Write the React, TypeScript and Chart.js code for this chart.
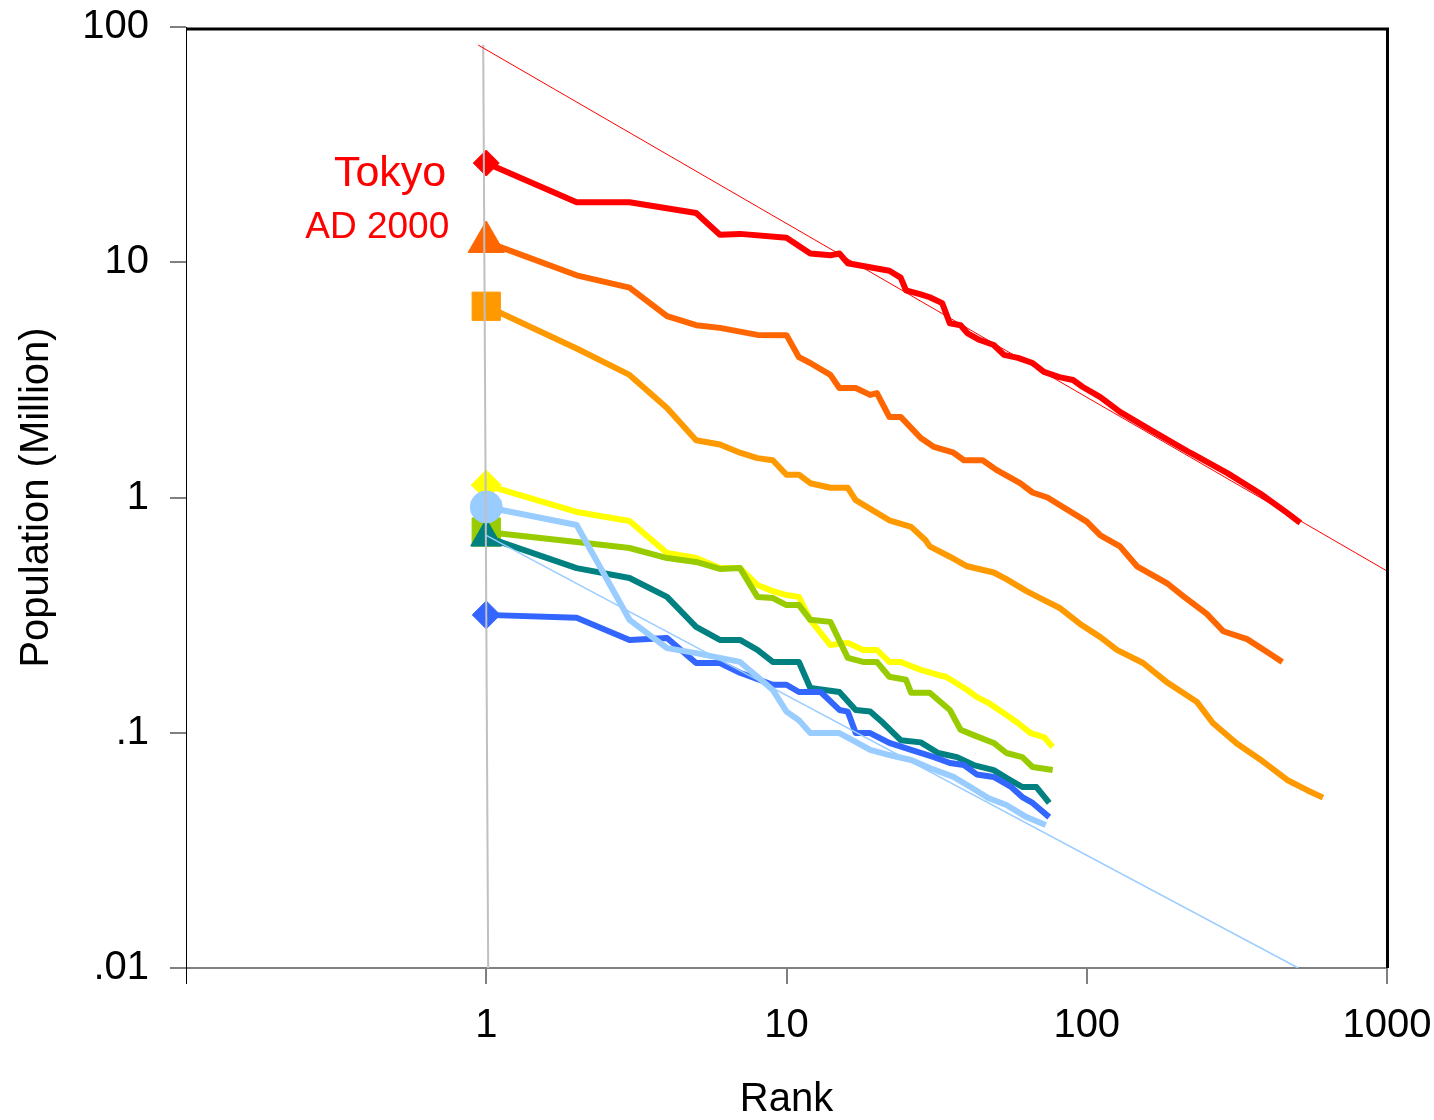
import React, { useEffect, useRef } from "react";
import { Chart, registerables } from "chart.js";

Chart.register(...registerables);

const FONT = "'Liberation Sans', Arial, Helvetica, sans-serif";

// ---- Axis ticks ----
const X_TICKS = [0.1, 1, 10, 100, 1000];
const X_TICK_LABELS = ["", "1", "10", "100", "1000"];
const Y_TICKS = [0.01, 0.1, 1, 10, 100];
const Y_TICK_LABELS = [".01", ".1", "1", "10", "100"];

// ---- Series: rank vs population (million) ----
const redRanks = [1, 2, 3, 5, 6, 7, 10, 12, 14, 15, 16, 22, 24, 25, 28, 30, 33, 35, 38, 40, 44, 49, 53, 59, 66, 72, 81, 90, 97, 111, 129, 163, 221, 294, 378, 465, 514];
const redValues = [26.4, 18.0, 18.0, 16.2, 13.1, 13.2, 12.7, 10.9, 10.7, 10.9, 9.9, 9.2, 8.6, 7.6, 7.3, 7.1, 6.7, 5.5, 5.4, 5.0, 4.67, 4.45, 4.04, 3.92, 3.73, 3.42, 3.25, 3.16, 2.95, 2.67, 2.31, 1.94, 1.55, 1.27, 1.04, 0.86, 0.78];

const orangeRedRanks = [1, 2, 3, 4, 5, 6, 8, 10, 11, 12, 14, 15, 17, 19, 20, 22, 24, 28, 31, 36, 39, 45, 50, 60, 66, 74, 100, 111, 129, 147, 186, 210, 251, 285, 342, 400, 448];
const orangeRedValues = [12.2, 8.8, 7.8, 5.9, 5.4, 5.26, 4.91, 4.9, 3.95, 3.73, 3.32, 2.92, 2.92, 2.73, 2.78, 2.2, 2.2, 1.79, 1.64, 1.55, 1.44, 1.44, 1.31, 1.15, 1.05, 1.0, 0.79, 0.69, 0.62, 0.51, 0.43, 0.38, 0.32, 0.27, 0.25, 0.22, 0.2];

const orangeRanks = [1, 2, 3, 4, 5, 6, 7, 8, 9, 10, 11, 12, 14, 16, 17, 22, 26, 29, 30, 35, 40, 49, 54, 63, 71, 81, 95, 111, 126, 154, 186, 233, 263, 316, 378, 465, 542, 612];
const orangeValues = [6.5, 4.3, 3.32, 2.4, 1.75, 1.68, 1.55, 1.47, 1.44, 1.25, 1.25, 1.15, 1.1, 1.1, 0.975, 0.8, 0.75, 0.66, 0.62, 0.56, 0.51, 0.48, 0.45, 0.4, 0.37, 0.34, 0.29, 0.255, 0.225, 0.198, 0.163, 0.135, 0.11, 0.09, 0.077, 0.063, 0.057, 0.053];

const yellowRanks = [1, 2, 3, 4, 5, 6, 7, 8, 9, 10, 11, 12, 14, 16, 18, 20, 22, 24, 28, 32, 34, 40, 43, 47, 53, 59, 65, 72, 77];
const yellowValues = [1.13, 0.868, 0.795, 0.581, 0.553, 0.501, 0.501, 0.425, 0.4, 0.385, 0.378, 0.302, 0.236, 0.241, 0.225, 0.225, 0.2, 0.2, 0.185, 0.176, 0.173, 0.152, 0.142, 0.134, 0.121, 0.11, 0.0997, 0.0959, 0.087];

const yellowGreenRanks = [1, 2, 3, 4, 5, 6, 7, 8, 9, 10, 11, 12, 14, 16, 18, 20, 22, 25, 26, 30, 35, 38, 42, 49, 54, 61, 66, 77];
const yellowGreenValues = [0.713, 0.647, 0.61, 0.553, 0.532, 0.497, 0.501, 0.378, 0.374, 0.349, 0.349, 0.302, 0.296, 0.208, 0.2, 0.2, 0.173, 0.168, 0.148, 0.148, 0.125, 0.103, 0.0977, 0.0905, 0.082, 0.0788, 0.0715, 0.0694];

const tealRanks = [1, 2, 3, 4, 5, 6, 7, 8, 9, 11, 12, 15, 17, 19, 21, 24, 28, 32, 37, 42, 49, 54, 61, 68, 75];
const tealValues = [0.679, 0.501, 0.455, 0.378, 0.282, 0.248, 0.248, 0.225, 0.2, 0.2, 0.155, 0.149, 0.125, 0.123, 0.11, 0.093, 0.091, 0.082, 0.0788, 0.0729, 0.0694, 0.0643, 0.0588, 0.0588, 0.0503];

const blueRanks = [1, 2, 3, 4, 5, 6, 7, 9, 10, 11, 13, 15, 16, 17, 19, 22, 26, 31, 35, 39, 43, 49, 56, 61, 66, 75];
const blueValues = [0.317, 0.308, 0.248, 0.253, 0.198, 0.198, 0.18, 0.16, 0.16, 0.149, 0.149, 0.125, 0.123, 0.0997, 0.0997, 0.0905, 0.0845, 0.0788, 0.0744, 0.0729, 0.0665, 0.0649, 0.0588, 0.0533, 0.0503, 0.0438];

const lightBlueRanks = [1, 2, 3, 4, 5, 7, 8, 9, 10, 11, 12, 15, 17, 19, 22, 26, 30, 36, 41, 47, 54, 63, 73];
const lightBlueValues = [0.911, 0.764, 0.302, 0.229, 0.218, 0.2, 0.173, 0.152, 0.123, 0.113, 0.0997, 0.0997, 0.0914, 0.0845, 0.0804, 0.0766, 0.0708, 0.0649, 0.0588, 0.0528, 0.0493, 0.0438, 0.0405];

// ---- Fit / reference lines ----
const redFitX = [0.94, 1000];
const redFitY = [83.8, 0.487];
const blueFitX = [1, 506];
const blueFitY = [0.69, 0.01];
const rankOneLineX = [0.977, 1.015];
const rankOneLineY = [84, 0.01];

const LABEL_MAIN = "Tokyo";
const LABEL_SUB = "AD 2000";

type SeriesDef = {
  name: string;
  ranks: number[];
  values: number[];
  color: string;
  marker: string;
  radius: number;
  order: number;
};

const SERIES: SeriesDef[] = [
  { name: "red", ranks: redRanks, values: redValues, color: "#FF0000", marker: "rectRot", radius: 13, order: 8 },
  { name: "orangeRed", ranks: orangeRedRanks, values: orangeRedValues, color: "#FF6600", marker: "triangle", radius: 21, order: 7 },
  { name: "orange", ranks: orangeRanks, values: orangeValues, color: "#FF9900", marker: "rect", radius: 20, order: 6 },
  { name: "yellow", ranks: yellowRanks, values: yellowValues, color: "#FFFF00", marker: "rectRot", radius: 15, order: 5 },
  { name: "yellowGreen", ranks: yellowGreenRanks, values: yellowGreenValues, color: "#99CC00", marker: "rect", radius: 20, order: 4 },
  { name: "teal", ranks: tealRanks, values: tealValues, color: "#008080", marker: "triangle", radius: 18, order: 3 },
  { name: "blue", ranks: blueRanks, values: blueValues, color: "#3366FF", marker: "rectRot", radius: 14, order: 2 },
  { name: "lightBlue", ranks: lightBlueRanks, values: lightBlueValues, color: "#99CCFF", marker: "circle", radius: 16, order: 1 },
];

const toPoints = (xs: number[], ys: number[]) => xs.map((x, i) => ({ x, y: ys[i] }));

export default function App() {
  const ref = useRef<HTMLCanvasElement>(null);

  useEffect(() => {
    const canvas = ref.current;
    if (!canvas) return;

    const datasets: any[] = SERIES.map((s) => ({
      label: s.name,
      data: toPoints(s.ranks, s.values),
      borderColor: s.color,
      backgroundColor: s.color,
      borderWidth: 6,
      borderJoinStyle: "round",
      tension: 0,
      fill: false,
      pointStyle: s.marker,
      pointRadius: (c: any) => (c.dataIndex === 0 ? s.radius : 0),
      pointHoverRadius: 0,
      pointBackgroundColor: s.color,
      pointBorderColor: s.color,
      pointBorderWidth: 1,
      order: s.order,
    }));

    datasets.push(
      {
        label: "redFit",
        data: toPoints(redFitX, redFitY),
        borderColor: "#FF0000",
        borderWidth: 1,
        pointRadius: 0,
        tension: 0,
        fill: false,
        order: 0,
      },
      {
        label: "blueFit",
        data: toPoints(blueFitX, blueFitY),
        borderColor: "#99CCFF",
        borderWidth: 1.5,
        pointRadius: 0,
        tension: 0,
        fill: false,
        order: 0,
      },
      {
        label: "rankOne",
        data: toPoints(rankOneLineX, rankOneLineY),
        borderColor: "#C0C0C0",
        borderWidth: 2,
        pointRadius: 0,
        tension: 0,
        fill: false,
        order: 0,
      }
    );

    const framePlugin = {
      id: "frameAndLabels",
      afterDraw(chart: any) {
        const { ctx, chartArea: a, scales } = chart;
        ctx.save();
        ctx.strokeStyle = "#000000";
        ctx.lineWidth = 3;
        ctx.beginPath();
        ctx.moveTo(a.left, a.top + 2);
        ctx.lineTo(a.right + 0.5, a.top + 2);
        ctx.lineTo(a.right + 0.5, a.bottom);
        ctx.stroke();

        const x1 = scales.x.getPixelForValue(1);
        const yTop = scales.y.getPixelForValue(redValues[0]);
        ctx.fillStyle = "#FF0000";
        ctx.textAlign = "right";
        ctx.textBaseline = "alphabetic";
        ctx.font = `43px ${FONT}`;
        ctx.fillText(LABEL_MAIN, x1 - 40, yTop + 23);
        ctx.font = `37px ${FONT}`;
        ctx.fillText(LABEL_SUB, x1 - 37, yTop + 75);
        ctx.restore();
      },
    };

    const chart = new Chart(canvas, {
      type: "line",
      data: { datasets },
      plugins: [framePlugin],
      options: {
        responsive: false,
        animation: false,
        devicePixelRatio: 1,
        events: [],
        layout: { padding: { top: 27, right: 47, left: 0, bottom: 0 } },
        plugins: {
          legend: { display: false },
          tooltip: { enabled: false },
        },
        scales: {
          x: {
            type: "logarithmic",
            min: 0.1,
            max: 1000,
            afterBuildTicks: (s: any) => {
              s.ticks = X_TICKS.map((v) => ({ value: v }));
            },
            afterFit: (s: any) => {
              s.height = 152;
              s.paddingLeft = 0;
              s.paddingRight = 0;
            },
            ticks: {
              autoSkip: false,
              maxRotation: 0,
              minRotation: 0,
              padding: 18,
              color: "#000000",
              font: { size: 40, family: FONT },
              callback: (v: any) => X_TICK_LABELS[X_TICKS.indexOf(Number(v))] ?? "",
            },
            grid: {
              drawOnChartArea: false,
              drawTicks: true,
              tickLength: 16,
              color: (c: any) => (c.index === 0 ? "#000000" : "#808080"),
              lineWidth: (c: any) => (c.index === 0 ? 1 : 2),
            },
            border: { display: true, color: "#808080", width: 2 },
            title: {
              display: true,
              text: "Rank",
              color: "#000000",
              font: { size: 40, family: FONT, lineHeight: 1 },
              padding: { top: 0, bottom: 0 },
            },
          },
          y: {
            type: "logarithmic",
            min: 0.01,
            max: 100,
            afterBuildTicks: (s: any) => {
              s.ticks = Y_TICKS.map((v) => ({ value: v }));
            },
            afterFit: (s: any) => {
              s.width = 186;
              s.paddingTop = 0;
              s.paddingBottom = 0;
            },
            ticks: {
              autoSkip: false,
              padding: 21,
              color: "#000000",
              font: { size: 40, family: FONT },
              callback: (v: any) => Y_TICK_LABELS[Y_TICKS.indexOf(Number(v))] ?? "",
            },
            grid: {
              drawOnChartArea: false,
              drawTicks: true,
              tickLength: 16,
              color: "#808080",
              lineWidth: 2,
            },
            border: { display: true, color: "#000000", width: 1 },
            title: {
              display: true,
              text: "Population (Million)",
              color: "#000000",
              font: { size: 40, family: FONT, lineHeight: 1 },
              padding: { top: 17, bottom: 0 },
            },
          },
        },
      } as any,
    });

    return () => chart.destroy();
  }, []);

  return (
    <div style={{ position: "fixed", left: 0, top: 0, width: 1434, height: 1120, background: "#ffffff" }}>
      <canvas ref={ref} width={1434} height={1120} style={{ display: "block", width: 1434, height: 1120 }} />
    </div>
  );
}
